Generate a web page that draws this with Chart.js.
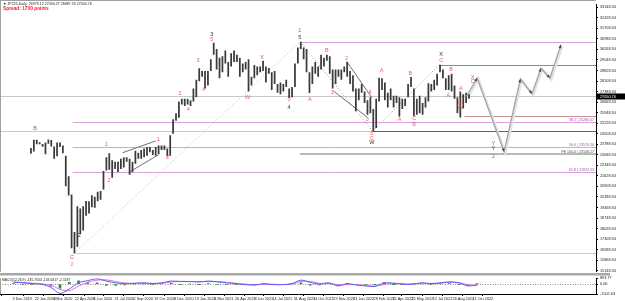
<!DOCTYPE html>
<html><head><meta charset="utf-8">
<script src="https://cdn.jsdelivr.net/npm/chart.js@4"></script>
<style>
html,body{margin:0;padding:0;background:#fff;width:625px;height:301px;overflow:hidden}
#c1{position:absolute;left:0;top:0}
#c2{position:absolute;left:0;top:274px}
</style></head><body>
<canvas id="c1" width="625" height="276"></canvas>
<canvas id="c2" width="625" height="27"></canvas>
<script>
// ---------- DATA ----------
// weekly bars, week 0 = week of 2 Dec 2019
const weekHigh = [23530,24090,24090,23930,23800,23900,24120,24080,23640,23900,23900,23700,23000,21600,20350,17800,19560,19400,19550,19920,19900,20300,20200,20550,20600,21960,22900,23180,22700,22600,22600,22800,22900,22900,22800,22600,23340,23200,23400,23500,23600,23600,23400,23600,23700,23700,23700,23500,24400,25500,25900,26700,26900,26900,26900,26800,27600,28200,28980,28800,28800,28800,29600,30714,30300,29700,29800,30200,29400,30000,30200,29900,29700,29300,29400,29600,28400,29200,29100,29100,29500,29100,29000,28700,28800,27900,28000,27900,28200,27600,27700,29300,30400,30795,30400,30300,28700,29100,29400,29100,29900,29700,29900,29800,28900,28900,28900,28900,29100,29400,28800,28500,27600,27600,27900,27400,26800,27000,26200,26900,28338,28300,28000,27300,27600,27100,27100,27000,26900,26900,27900,28390,27600,26900,27100,26600,27000,27950,27900,28200,28600,29222,28900,28300,28500,28600,27800,27000,27400,27200,27300,27200];
const weekLow  = [23140,23300,23780,23780,23620,23110,23820,23640,22790,22970,23600,23180,20920,20280,16690,16358,16780,17650,17900,18910,19050,19480,19450,19900,20000,20700,22000,22050,21500,22100,21900,22100,22200,22600,21710,21900,22450,22800,22800,22900,23000,23250,23050,23000,23100,23400,23400,22950,23000,24500,25400,25600,26500,26400,26500,26400,26700,27000,28100,28400,27600,27800,28800,29900,28900,28300,28700,29300,28400,29100,29400,29400,28400,28700,28900,27400,27800,28300,28500,28700,28800,28000,28600,27500,27900,27300,27200,27400,27700,26950,27000,27700,29300,30300,29600,28700,27290,27900,28600,28400,28900,29100,29500,28600,27590,27900,28400,28200,28700,28400,27900,27400,26044,26800,27300,26600,25800,25900,24681,24900,26700,27500,26800,26300,26800,26300,26600,25690,26200,26400,27000,27700,25700,25800,25900,25800,26300,26700,27400,27500,27800,28700,28300,27500,27500,27400,26900,25900,25621,26237,26600,26900];
const lastClose = 27050.76;

// projected path (weeks, prices)
const projWeeks  = [150.6, 154.3, 163.6, 169.2, 173.2, 176.3, 179.4, 183.2];
const projPrices = [27050, 28312, 23275, 28245, 27238, 28984, 28312, 30596];

// x axis tick labels
const xTickLabels = ['3 Dec 2019','22 Jan 2020','4 Mar 2020','22 Apr 2020','3 Jun 2020','21 Jul 2020','2 Sep 2020','19 Oct 2020','3 Dec 2020','19 Jan 2021','4 Mar 2021','20 Apr 2021','3 Jun 2021','14 Jul 2021','31 Aug 2021','14 Oct 2021','29 Nov 2021','13 Jan 2022','28 Feb 2022','12 Apr 2022','25 May 2022','12 Jul 2022','26 Aug 2022','11 Oct 2022'];
const xTickWeeks  = [0.14,7.29,13.29,20.29,26.29,33.14,39.29,46.0,52.43,59.14,65.43,72.14,78.43,84.29,91.14,97.43,104.0,110.43,117.0,123.14,129.29,136.14,142.57,149.14];

// price axis tick labels
const yTickValues = [33148.34,32428.34,31708.34,30988.34,30268.34,29548.34,28828.34,28108.34,27388.34,26668.34,25948.34,25228.34,24508.34,23788.34,23068.34,22348.34,21628.34,20908.34,20188.34,19468.34,18748.34,18028.34,17308.34,16588.34,15868.34,15148.34];

// indicator (sampled every 3 weeks)
const macdMain   = [340,200,70,0,-470,-1420,-740,200,540,810,470,200,70,135,200,70,200,470,400,400,340,470,340,200,70,-70,-135,70,-70,-70,70,610,270,0,200,-270,70,-135,-270,-340,200,135,0,0,200,70,200,340,200,-270,-135];
const macdSignal = [250,260,150,50,-150,-800,-1000,-300,300,600,650,400,170,100,160,120,140,330,420,400,370,400,400,270,130,0,-100,-20,-20,-60,0,400,420,130,120,-80,-60,-80,-200,-300,-50,150,60,0,120,120,140,280,260,-80,-180];
const macdHist   = [90,-60,-80,-50,-320,-620,260,500,240,210,-180,-200,-100,35,40,-50,60,140,-20,0,-30,70,-60,-70,-60,-70,-35,90,-50,-10,70,210,-150,-130,80,-190,130,-55,-70,-40,250,-15,-60,0,80,-50,60,60,-60,-190,45];
const macdTicks  = [893.77, 0, -1502.63];

// fibonacci / level lines: [price, fromWeek, toWeek, kind, label]
const levelLines = [
  [30795, 93.3, null, 'fib', ''],
  [29222, 141.3, null, 'grayD', ''],
  [25280.07, 14.9, null, 'fib', '38.2 | 25280.07'],
  [24681, null, 118.3, 'orange', ''],
  [24681, 118.3, null, 'brown', ''],
  [23576.50, 14.9, null, 'fib', '50.0 | 23576.50'],
  [23108.27, 93.3, null, 'fe', 'FE 100.0 | 23108.27'],
  [21872.93, 14.9, null, 'fib', '61.8 | 21872.93'],
  [16358, 14.9, null, 'orange', ''],
  [25700, 150.0, null, 'rose', '']
];
// trend / tool lines: [w1,p1,w2,p2,kind]
const toolLines = [
  [15.6,16358, 93.3,30795, 'pinkDot'],
  [93.3,30795, 118.3,24681, 'grayDot'],
  [118.3,24681, 141.3,29222, 'grayDot'],
  [32.06,23208, 43.5,24014, 'gray'],
  [34.2,21865, 44.47,23074, 'gray'],
  [109.3,29454, 118.0,26969, 'gray'],
  [104.7,27440, 116.45,25626, 'gray']
];
// wave labels: [text, colour, week, price]
const waveLabels = [
  ['B','p',1.96,24887],['C','p',14.68,16022],['2','o',14.68,15552],['2','k',17.16,17567],
  ['1','r',26.47,23746],['2','r',27.4,21328],['1','r',44.47,24082],['2','r',47.57,22872],
  ['2','r',51.9,27238],['4','r',54.7,26163],['3','r',58.1,29521],['4','r',60.0,27507],
  ['3','k',62.8,31268],['5','r',62.8,30932],
  ['1','p',93.2,31536],['5','k',93.2,31066],['X','r',80.15,29723],['W','r',75.2,26969],
  ['Y','r',89.5,26768],['4','k',89.5,26298],['A','r',96.6,26835],['B','r',102.5,30193],
  ['2','r',109.3,29656],['1','r',104.35,27305],['4','r',117.4,27305],['A','r',121.4,28850],
  ['3','r',116.45,25492],['5','r',118.0,24552],['C','r',118.0,24216],['W','k',118.0,23880],
  ['A','r',127.6,25492],['C','r',132.6,25559],['B','r',132.6,25156],['B','r',131.3,28648],
  ['X','k',141.9,29924],['C','r',141.9,29521],['A','r',144.4,27104],['B','r',145.3,28917],
  ['A','r',148.7,27574],['C','r',148.4,26634],['W','r',148.4,26298],
  ['X','r',152.75,28380],['C','r',152.75,28044],
  ['Y','p',159.9,23813],['Y','k',159.9,23477],['2','p',159.9,22940]
];

// ---------- RENDER ----------
const COL = {r:'#f05a5a', p:'#a845b0', k:'#333333', o:'#e08a50'};
const LINE = {
  fib:{c:'#d8a2dc',w:1,d:[]}, grayD:{c:'#8a8a8a',w:1,d:[]}, orange:{c:'#f3bf98',w:1,d:[]},
  brown:{c:'#8b5a3a',w:1,d:[]}, fe:{c:'#b8b8b8',w:2,d:[]}, rose:{c:'#c89090',w:1,d:[]},
  pinkDot:{c:'#dca8e0',w:1,d:[1,2]}, grayDot:{c:'#999999',w:1,d:[1,2]}, gray:{c:'#707070',w:1,d:[]}
};
const FONT = '"Liberation Sans", Arial, sans-serif';

const bars = weekHigh.map((h,i)=>({x:i+0.5, y:[weekLow[i], h]}));
const proj = projWeeks.map((w,i)=>({x:w, y:projPrices[i]}));

const overlay = {
  id:'overlay',
  beforeDatasetsDraw(chart){
    const {ctx, chartArea:a, scales:{x,y}} = chart;
    ctx.save();
    ctx.beginPath(); ctx.rect(a.left,a.top,a.right-a.left,a.bottom-a.top); ctx.clip();
    ctx.strokeStyle='#c8c8c8'; ctx.lineWidth=1;
    let yy=Math.round(y.getPixelForValue(lastClose))+0.5;
    ctx.beginPath(); ctx.moveTo(a.left,yy); ctx.lineTo(a.right,yy); ctx.stroke();
    levelLines.forEach(l=>{
      const s=LINE[l[3]];
      ctx.strokeStyle=s.c; ctx.lineWidth=s.w; ctx.setLineDash(s.d);
      const py=Math.round(y.getPixelForValue(l[0]))+(s.w%2?0.5:0);
      const x1=l[1]==null?a.left:x.getPixelForValue(l[1]);
      const x2=l[2]==null?a.right:x.getPixelForValue(l[2]);
      ctx.beginPath(); ctx.moveTo(x1,py); ctx.lineTo(x2,py); ctx.stroke();
    });
    toolLines.forEach(l=>{
      const s=LINE[l[4]];
      ctx.strokeStyle=s.c; ctx.lineWidth=s.w; ctx.setLineDash(s.d);
      ctx.beginPath();
      ctx.moveTo(x.getPixelForValue(l[0]),y.getPixelForValue(l[1]));
      ctx.lineTo(x.getPixelForValue(l[2]),y.getPixelForValue(l[3]));
      ctx.stroke();
    });
    ctx.setLineDash([]);
    ctx.strokeStyle='#e2e2e2'; ctx.lineWidth=2.5;
    ctx.beginPath();
    proj.forEach((p,i)=>{const px=x.getPixelForValue(p.x)+1.2, py=y.getPixelForValue(p.y)+1.2; i?ctx.lineTo(px,py):ctx.moveTo(px,py);});
    ctx.stroke();
    ctx.restore();
  },
  afterDatasetsDraw(chart){
    const {ctx, chartArea:a, scales:{x,y}} = chart;
    ctx.save();
    ctx.fillStyle='#4a4a4a';
    for(let i=1;i<proj.length;i++){
      const x0=x.getPixelForValue(proj[i-1].x), y0=y.getPixelForValue(proj[i-1].y);
      const x1=x.getPixelForValue(proj[i].x), y1=y.getPixelForValue(proj[i].y);
      const ang=Math.atan2(y1-y0,x1-x0);
      ctx.save(); ctx.translate(x1,y1); ctx.rotate(ang);
      ctx.beginPath(); ctx.moveTo(0,0); ctx.lineTo(-3.5,-1.5); ctx.lineTo(-3.5,1.5); ctx.closePath(); ctx.fill();
      ctx.restore();
    }
    ctx.font='3.6px '+FONT; ctx.textAlign='right'; ctx.textBaseline='bottom';
    levelLines.forEach(l=>{ if(!l[4]) return;
      ctx.fillStyle = l[3]==='fe' ? '#555' : '#a050a8';
      ctx.fillText(l[4], a.right-2, y.getPixelForValue(l[0])-0.5);
    });
    ctx.font='5.5px '+FONT; ctx.textAlign='center'; ctx.textBaseline='middle';
    waveLabels.forEach(w=>{
      ctx.fillStyle=COL[w[1]];
      ctx.fillText(w[0], x.getPixelForValue(w[2]), y.getPixelForValue(w[3]));
    });
    ctx.textAlign='left'; ctx.textBaseline='top';
    ctx.fillStyle='#222'; ctx.font='3.6px '+FONT;
    ctx.fillText('\u25BC JP225,Daily  26979.12 27094.27 26887.59 27050.76', 3, 2.5);
    ctx.fillStyle='#ff2020'; ctx.font='bold 4.8px '+FONT;
    ctx.fillText('Spread: 1700 points', 3, 6.5);
    ctx.strokeStyle='#a0a0a0'; ctx.lineWidth=1;
    ctx.beginPath(); ctx.moveTo(0,0.5); ctx.lineTo(a.right,0.5); ctx.moveTo(0.5,0); ctx.lineTo(0.5,a.bottom); ctx.stroke();
    ctx.fillStyle='#a8a8a8'; ctx.fillRect(0,273,610,2.5);
    const cy=y.getPixelForValue(lastClose);
    ctx.fillStyle='#000'; ctx.fillRect(a.right+1, cy-3, 28, 6);
    ctx.fillStyle='#fff'; ctx.font='3.8px '+FONT; ctx.textAlign='left'; ctx.textBaseline='middle';
    ctx.fillText(lastClose.toFixed(2), a.right+4, cy);
    ctx.restore();
  }
};

new Chart(document.getElementById('c1'), {
  type:'bar',
  data:{datasets:[
    {type:'line', data:proj, borderColor:'#a4a4a4', borderWidth:1.3, pointRadius:0, tension:0, order:0},
    {type:'bar', data:bars, backgroundColor:'#3a3a3a', barPercentage:1, categoryPercentage:0.6, order:1}
  ]},
  options:{
    responsive:false, animation:false, devicePixelRatio:1,
    layout:{padding:{top:2,bottom:2,left:0,right:0}},
    plugins:{legend:{display:false}, tooltip:{enabled:false}},
    scales:{
      x:{type:'linear', min:0.1, max:185, display:false},
      y:{position:'right', min:15081, max:33349.5,
         afterBuildTicks(s){ s.ticks = yTickValues.map(v=>({value:v})); },
         afterFit(s){ s.width = 29; },
         ticks:{autoSkip:false, font:{size:3.8, family:FONT}, color:'#222', padding:2, callback:v=>Number(v).toFixed(2)},
         grid:{drawOnChartArea:false, tickLength:2, color:'#000'},
         border:{color:'#000', width:1}}
    }
  },
  plugins:[overlay]
});

const ind = (arr)=>arr.map((v,i)=>({x:Math.min(i*3,151)+0.5, y:v}));
const indOverlay = {
  id:'indOverlay',
  beforeDatasetsDraw(chart){
    const {ctx, chartArea:a, scales:{y}} = chart;
    ctx.save();
    ctx.strokeStyle='#888'; ctx.setLineDash([1,1.5]); ctx.lineWidth=1;
    const zy=Math.round(y.getPixelForValue(0))+0.5;
    ctx.beginPath(); ctx.moveTo(a.left,zy); ctx.lineTo(a.right,zy); ctx.stroke();
    ctx.restore();
  },
  afterDatasetsDraw(chart){
    const {ctx, chartArea:a} = chart;
    ctx.save();
    ctx.fillStyle='#222'; ctx.font='3.4px '+FONT; ctx.textAlign='left'; ctx.textBaseline='top';
    ctx.fillText('MACD(12,26,9) -135.7504 -133.6317 -2.1187', 2, a.top+0.5);
    ctx.strokeStyle='#a0a0a0'; ctx.lineWidth=1;
    ctx.beginPath(); ctx.moveTo(0.5,a.top); ctx.lineTo(0.5,a.bottom); ctx.stroke();
    ctx.restore();
  }
};
new Chart(document.getElementById('c2'), {
  type:'bar',
  data:{datasets:[
    {type:'line', data:ind(macdMain), borderColor:'#5a5aff', borderWidth:1, pointRadius:0, tension:0.3, order:1},
    {type:'line', data:ind(macdSignal), borderColor:'#e070e0', borderWidth:1, pointRadius:0, tension:0.3, order:2},
    {type:'bar', data:ind(macdHist), backgroundColor:'#2f8f2f', barThickness:2, order:3}
  ]},
  options:{
    responsive:false, animation:false, devicePixelRatio:1,
    layout:{padding:{top:2,bottom:0,left:0,right:0}},
    plugins:{legend:{display:false}, tooltip:{enabled:false}},
    scales:{
      x:{type:'linear', min:0.1, max:185,
         afterBuildTicks(s){ s.ticks = xTickWeeks.map(v=>({value:v})); },
         afterFit(s){ s.height = 7; },
         ticks:{autoSkip:false, maxRotation:0, align:'start', padding:1, font:{size:3.8, family:FONT}, color:'#222',
                callback:(v,i)=>xTickLabels[i]},
         grid:{drawOnChartArea:false, tickLength:2, color:'#000'},
         border:{color:'#000'}},
      y:{position:'right', min:-1502.63, max:893.77,
         afterBuildTicks(s){ s.ticks = macdTicks.map(v=>({value:v})); },
         afterFit(s){ s.width = 29; },
         ticks:{autoSkip:false, font:{size:3.8, family:FONT}, color:'#222', padding:2, callback:v=>Number(v).toFixed(2)},
         grid:{drawOnChartArea:false, tickLength:2, color:'#000'},
         border:{color:'#000'}}
    }
  },
  plugins:[indOverlay]
});
</script>
</body></html>
